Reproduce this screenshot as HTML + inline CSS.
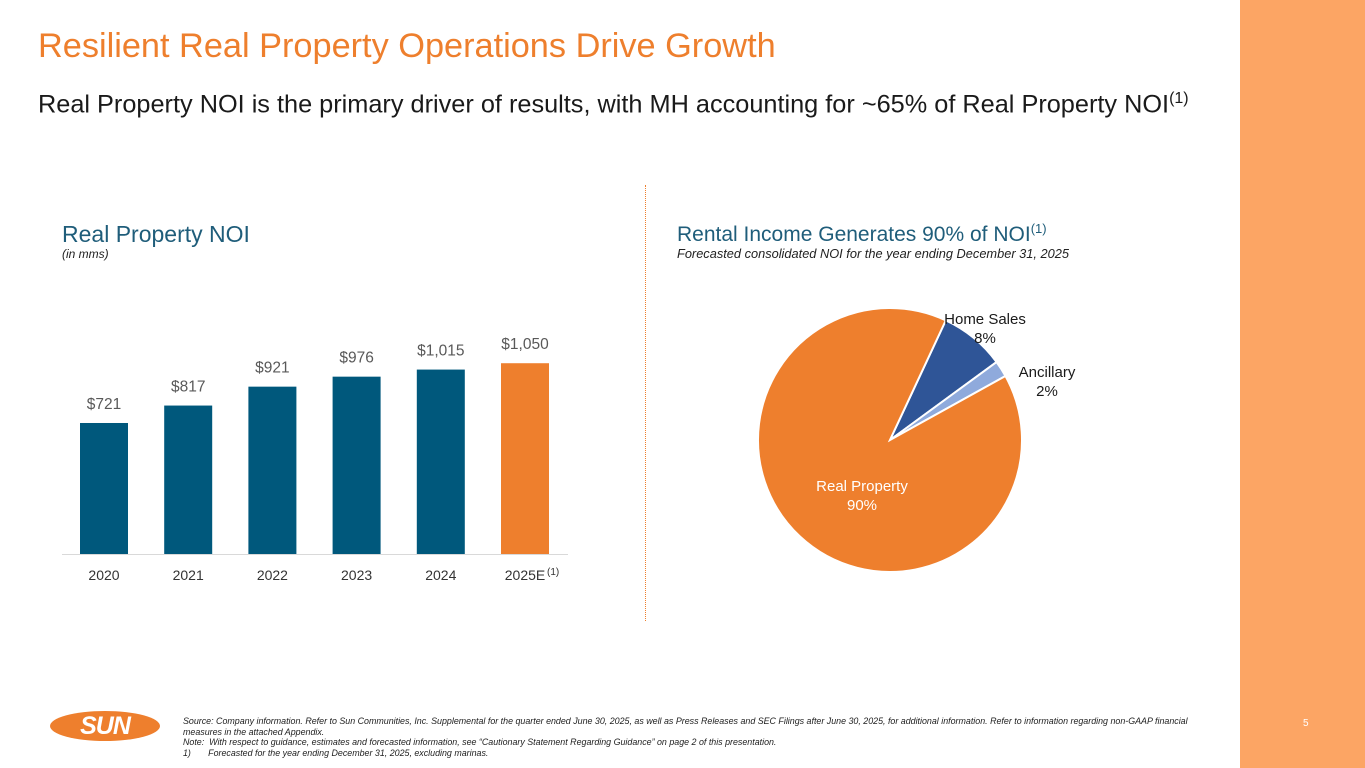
<!DOCTYPE html>
<html><head><meta charset="utf-8">
<style>
body{margin:0;width:1365px;height:768px;overflow:hidden;background:#fff;font-family:"Liberation Sans",Arial,sans-serif;position:relative}
.abs{position:absolute;white-space:nowrap}
</style></head><body>
<div class="abs" style="left:1240px;top:0;width:125px;height:768px;background:#FCA564"></div>
<div class="abs" style="left:1303px;top:718px;font-size:10px;color:#fff">5</div>
<div class="abs" style="left:38px;top:27px;font-size:34.3px;color:#EE7F2D">Resilient Real Property Operations Drive Growth</div>
<div class="abs" style="left:38px;top:90px;font-size:25.3px;color:#1a1a1a">Real Property NOI is the primary driver of results, with MH accounting for ~65% of Real Property NOI<sup style="font-size:16px">(1)</sup></div>
<div class="abs" style="left:62px;top:221px;font-size:23px;color:#1F5D7A">Real Property NOI</div>
<div class="abs" style="left:62px;top:247px;font-size:12px;font-style:italic;color:#222">(in mms)</div>
<div class="abs" style="left:677px;top:221px;font-size:21px;color:#1F5D7A">Rental Income Generates 90% of NOI<sup style="font-size:13px">(1)</sup></div>
<div class="abs" style="left:677px;top:246px;font-size:12.8px;font-style:italic;color:#222">Forecasted consolidated NOI for the year ending December 31, 2025</div>
<div class="abs" style="left:645px;top:185px;height:436px;border-left:1px dotted #EE7F2D"></div>

<svg class="abs" style="left:0;top:0" width="640" height="600" id="bars"></svg>
<svg class="abs" style="left:640px;top:0" width="600" height="640" id="pie"></svg>

<div class="abs" style="left:50px;top:711px;width:110px;height:30px;border-radius:50%;background:#EE7F2D;color:#fff;font-weight:bold;font-style:italic;font-size:25px;text-align:center;line-height:30px;letter-spacing:-1px">SUN</div>
<div class="abs" style="left:183px;top:716px;font-size:8.9px;font-style:italic;color:#222;line-height:10.5px">Source: Company information. Refer to Sun Communities, Inc. Supplemental for the quarter ended June 30, 2025, as well as Press Releases and SEC Filings after June 30, 2025, for additional information. Refer to information regarding non-GAAP financial<br>measures in the attached Appendix.<br>Note:&nbsp; With respect to guidance, estimates and forecasted information, see “Cautionary Statement Regarding Guidance” on page 2 of this presentation.<br>1)&nbsp;&nbsp;&nbsp;&nbsp;&nbsp;&nbsp; Forecasted for the year ending December 31, 2025, excluding marinas.</div>

<script>
const categories=["2020","2021","2022","2023","2024","2025E"];
const values=[721,817,921,976,1015,1050];
const valueLabels=["$721","$817","$921","$976","$1,015","$1,050"];
const pieLabels=["Home Sales","Ancillary","Real Property"];
const pieValues=[8,2,90];
const NS="http://www.w3.org/2000/svg";
function mk(p,t,a){const e=document.createElementNS(NS,t);for(const k in a)e.setAttribute(k,a[k]);p.appendChild(e);return e;}
const bs=document.getElementById('bars');
const base=554,scale=0.1817;
const xc=i=>104+i*84.2;
const y=v=>base-v*scale;
mk(bs,'line',{x1:62,x2:568,y1:base+0.5,y2:base+0.5,stroke:'#d9d9d9','stroke-width':1});
values.forEach((v,i)=>{
  const r=mk(bs,'rect',{x:xc(i)-24,y:y(v),width:48,height:base-y(v),fill:i==5?'#EE7F2D':'#00587C'});
  
  
  const t=mk(bs,'text',{x:xc(i),y:y(v)-14,'text-anchor':'middle','font-size':15.5,fill:'#595959'});
  t.textContent=valueLabels[i];
  
  
  const c=mk(bs,'text',{x:xc(i),y:580,'text-anchor':'middle','font-size':14,fill:'#333'});
  c.textContent=categories[i];
  
  
});
const sup=mk(bs,'text',{x:xc(5)+22,y:575,'font-size':10,fill:'#333'});sup.textContent='(1)';
const ps=document.getElementById('pie');
const cx=250,cy=440,R=132;
const colors=['#2F5597','#8FAADC','#EE7F2D'];
const total=pieValues.reduce((a,b)=>a+b,0);
let ang=25*Math.PI/180;
const pt=(a,r)=>[cx+r*Math.sin(a),cy-r*Math.cos(a)];
pieValues.forEach((v,i)=>{
  const a2=ang+v/total*2*Math.PI;
  const [x1,y1]=pt(ang,R),[x2,y2]=pt(a2,R);
  const p=mk(ps,'path',{d:`M${cx},${cy}L${x1},${y1}A${R},${R} 0 ${a2-ang>Math.PI?1:0} 1 ${x2},${y2}Z`,fill:colors[i],stroke:'#fff','stroke-width':2});
  
  
  ang=a2;
});
const lbl=[[345,324,'#1a1a1a'],[407,377,'#1a1a1a'],[222,491,'#fff']];
pieLabels.forEach((l,i)=>{
  const t=mk(ps,'text',{x:lbl[i][0],y:lbl[i][1],'text-anchor':'middle','font-size':15,fill:lbl[i][2]});
  
  
  mk(t,'tspan',{x:lbl[i][0],dy:0}).textContent=l;
  mk(t,'tspan',{x:lbl[i][0],dy:19}).textContent=pieValues[i]+'%';
});
</script>
</body></html>
